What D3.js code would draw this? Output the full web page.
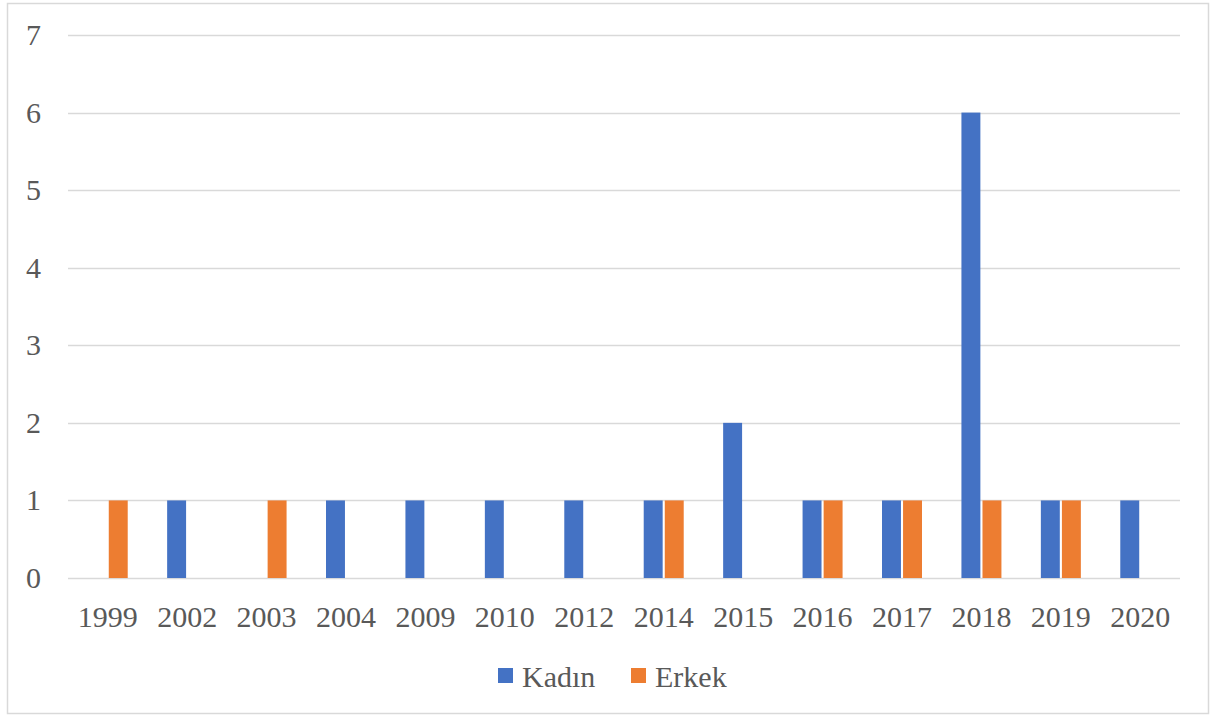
<!DOCTYPE html>
<html>
<head>
<meta charset="utf-8">
<script src="https://cdn.jsdelivr.net/npm/d3@7"></script>
<style>
  html, body { margin: 0; padding: 0; background: #fff; }
  svg { display: block; }
</style>
</head>
<body>
<svg id="chart" width="1210" height="717"></svg>
<script>
const years = ["1999","2002","2003","2004","2009","2010","2012","2014","2015","2016","2017","2018","2019","2020"];
const seriesNames = ["Kadın", "Erkek"];
const kadin = [0,1,0,1,1,1,1,1,2,1,1,6,1,1];
const erkek = [1,0,1,0,0,0,0,1,0,1,1,1,1,0];
const yTicks = [0,1,2,3,4,5,6,7];
const colors = ["#4472C4", "#ED7D31"];

(function () {
  const FONT = "'Liberation Serif', 'Times New Roman', Tinos, 'DejaVu Serif', serif";
  const svg = d3.select("#chart")
    .attr("font-family", FONT);

  // chart frame
  svg.append("rect")
    .attr("x", 7.5).attr("y", 3.5)
    .attr("width", 1201).attr("height", 710)
    .attr("fill", "#fff").attr("stroke", "#d9d9d9").attr("stroke-width", 1.5);

  const plotLeft = 68, plotRight = 1180, plotTop = 35, plotBottom = 578;

  const x0 = d3.scaleBand().domain(years).range([plotLeft, plotRight]).paddingInner(0).paddingOuter(0);
  const bw = x0.bandwidth();
  const x1 = d3.scaleBand().domain(seriesNames)
    .range([bw / 2 - 20, bw / 2 + 20]).paddingInner(0.1).paddingOuter(0);
  const y = d3.scaleLinear().domain([0, 7]).range([plotBottom, plotTop]);

  // gridlines
  svg.append("g").selectAll("line").data(yTicks).join("line")
    .attr("x1", plotLeft).attr("x2", plotRight)
    .attr("y1", d => Math.round(y(d)) + 0.5).attr("y2", d => Math.round(y(d)) + 0.5)
    .attr("stroke", "#d9d9d9").attr("stroke-width", 1.5);

  // y tick labels
  svg.append("g").selectAll("text").data(yTicks).join("text")
    .attr("x", 41).attr("y", d => y(d) + 10)
    .attr("text-anchor", "end")
    .attr("font-family", FONT)
    .attr("font-size", 30)
    .attr("fill", "#595959")
    .text(d => d);

  // bars
  const rows = years.map((yr, i) => ({ year: yr, values: [kadin[i], erkek[i]] }));
  const groups = svg.append("g").selectAll("g").data(rows).join("g")
    .attr("transform", d => `translate(${x0(d.year)},0)`);
  groups.selectAll("rect")
    .data(d => d.values.map((v, k) => ({ key: seriesNames[k], value: v, k })).filter(e => e.value > 0))
    .join("rect")
    .attr("x", d => x1(d.key))
    .attr("width", x1.bandwidth())
    .attr("y", d => y(d.value))
    .attr("height", d => y(0) - y(d.value))
    .attr("fill", d => colors[d.k]);

  // x tick labels
  svg.append("g").selectAll("text").data(years).join("text")
    .attr("x", d => x0(d) + bw / 2)
    .attr("y", 627)
    .attr("text-anchor", "middle")
    .attr("font-family", FONT)
    .attr("font-size", 30)
    .attr("fill", "#595959")
    .text(d => d);

  // legend
  const legendX = [498, 631];
  const legend = svg.append("g").selectAll("g").data(seriesNames).join("g")
    .attr("transform", (d, i) => `translate(${legendX[i]},668)`);
  legend.append("rect").attr("width", 15).attr("height", 15).attr("fill", (d, i) => colors[i]);
  legend.append("text").attr("x", 24).attr("y", 19)
    .attr("font-family", FONT)
    .attr("font-size", 30)
    .attr("fill", "#595959")
    .text(d => d);
})();
</script>
</body>
</html>
